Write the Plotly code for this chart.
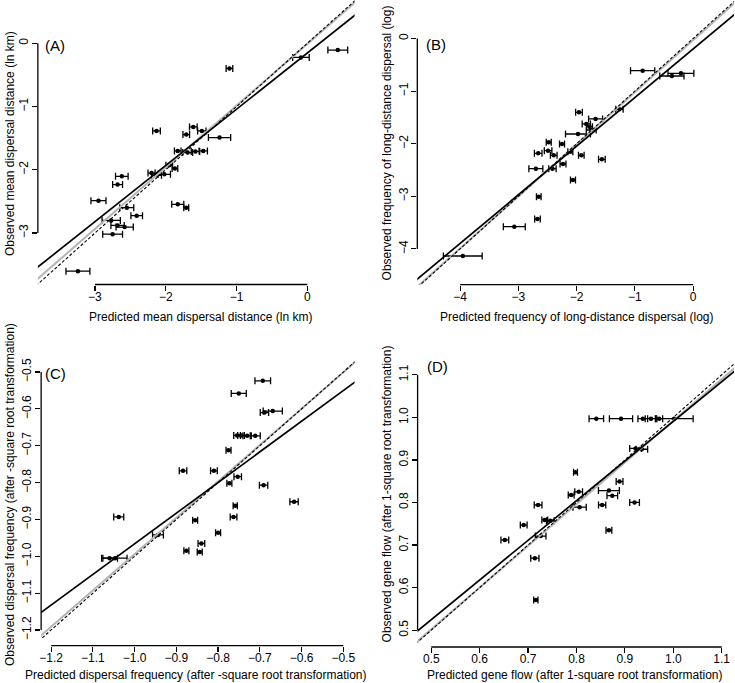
import plotly.graph_objects as go

# ---------------- data ----------------
# Panel A: mean dispersal distance (ln km)
a_pred = [0.43, -0.09, -1.10, -2.13, -1.61, -1.49, -1.71, -1.24, -1.83, -1.69, -1.58, -1.47,
          -1.95, -1.87, -2.20, -2.13, -2.02, -2.62, -2.68, -2.95, -1.83, -1.71, -2.55, -2.41,
          -2.77, -2.68, -2.58, -2.75, -3.24]
a_err = [0.14, 0.117, 0.047, 0.054, 0.054, 0.059, 0.047, 0.157, 0.047, 0.07, 0.06, 0.059,
         0.047, 0.04, 0.05, 0.07, 0.087, 0.089, 0.07, 0.106, 0.085, 0.035, 0.099, 0.082,
         0.129, 0.094, 0.122, 0.14, 0.169]
a_obs = [-0.108, -0.223, -0.397, -1.386, -1.322, -1.386, -1.443, -1.490, -1.702, -1.728, -1.71, -1.702,
         -1.929, -1.981, -2.051, -2.087, -2.071, -2.103, -2.234, -2.488, -2.546, -2.599, -2.599, -2.725,
         -2.800, -2.879, -2.906, -3.017, -3.603]

# Panel B: frequency of long-distance dispersal (log)
b_pred = [-0.867, -0.365, -0.21, -1.265, -1.96, -1.675, -1.834, -1.778, -1.75, -1.977, -2.479, -2.251,
          -2.49, -2.66, -2.393, -2.108, -1.92, -1.567, -2.234, -2.70, -2.415, -2.063, -2.65, -2.672,
          -3.07, -3.954]
b_err = [0.208, 0.208, 0.222, 0.063, 0.057, 0.12, 0.071, 0.05, 0.085, 0.214, 0.043, 0.043,
         0.065, 0.065, 0.057, 0.043, 0.048, 0.057, 0.051, 0.12, 0.063, 0.043, 0.04, 0.048,
         0.188, 0.333]
b_obs = [-0.612, -0.713, -0.662, -1.346, -1.403, -1.530, -1.625, -1.677, -1.740, -1.816, -1.973, -2.006,
         -2.133, -2.183, -2.221, -2.152, -2.221, -2.297, -2.386, -2.475, -2.475, -2.690, -3.008, -3.432,
         -3.578, -4.135]

# Panel C: dispersal frequency (after -square root transformation)
c_pred = [-0.693, -0.7505, -0.669, -0.689, -0.7545, -0.745, -0.7305, -0.711, -0.775, -0.884, -0.810,
          -0.753, -0.773, -0.691, -0.618, -0.759, -0.763, -1.038, -0.855, -0.944, -0.800, -0.840,
          -0.844, -0.876, -1.047, -1.060]
c_err = [0.0187, 0.018, 0.023, 0.010, 0.008, 0.008, 0.010, 0.012, 0.006, 0.009, 0.008,
         0.009, 0.006, 0.010, 0.010, 0.005, 0.008, 0.012, 0.006, 0.013, 0.006, 0.008,
         0.006, 0.006, 0.029, 0.019]
c_obs = [-0.524, -0.558, -0.606, -0.610, -0.672, -0.672, -0.673, -0.673, -0.712, -0.768, -0.768,
         -0.784, -0.802, -0.807, -0.852, -0.863, -0.893, -0.893, -0.902, -0.942, -0.936, -0.965,
         -0.988, -0.985, -1.005, -1.005]

# Panel D: gene flow (after 1-square root transformation)
d_pred = [0.841, 0.892, 0.937, 0.954, 0.971, 1.002, 0.922, 0.935, 0.798, 0.889, 0.8045, 0.789,
          0.867, 0.874, 0.920, 0.853, 0.8065, 0.7207, 0.691, 0.7345, 0.746, 0.726, 0.652, 0.867,
          0.714, 0.716]
d_err = [0.015, 0.024, 0.010, 0.012, 0.007, 0.039, 0.012, 0.012, 0.004, 0.007, 0.008, 0.006,
         0.0216, 0.011, 0.010, 0.0075, 0.0137, 0.008, 0.007, 0.006, 0.008, 0.011, 0.008, 0.006,
         0.0085, 0.0045]
d_obs = [0.997, 0.997, 0.997, 0.997, 0.997, 0.997, 0.927, 0.925, 0.871, 0.849, 0.825, 0.8176,
         0.828, 0.816, 0.800, 0.794, 0.789, 0.794, 0.747, 0.759, 0.757, 0.721, 0.712, 0.735,
         0.669, 0.571]

# fitted lines: (intercept, slope)
a_fit_solid, a_fit_gray, a_fit_dash = (-0.153, 0.889), (-0.01, 0.975), (0.0, 1.0)
b_fit_solid, b_fit_gray, b_fit_dash = (-0.200, 0.924), (-0.03, 0.99), (0.0, 1.0)
c_fit_solid, c_fit_gray, c_fit_dash = (-0.135, 0.831), (-0.008, 0.986), (0.0, 1.0)
d_fit_solid, d_fit_gray, d_fit_dash = (0.0589, 0.9316), (0.012, 0.98), (0.0, 1.0)

# tick values / labels
a_ticks = [-3, -2, -1, 0]
a_ticklabels = ["\u22123", "\u22122", "\u22121", "0"]
b_ticks = [-4, -3, -2, -1, 0]
b_ticklabels = ["\u22124", "\u22123", "\u22122", "\u22121", "0"]
c_ticks = [-1.2, -1.1, -1.0, -0.9, -0.8, -0.7, -0.6, -0.5]
c_ticklabels = ["\u22121.2", "\u22121.1", "\u22121.0", "\u22120.9", "\u22120.8", "\u22120.7", "\u22120.6", "\u22120.5"]
d_ticks = [0.5, 0.6, 0.7, 0.8, 0.9, 1.0, 1.1]
d_ticklabels = ["0.5", "0.6", "0.7", "0.8", "0.9", "1.0", "1.1"]

xtitles = ["Predicted mean dispersal distance (ln km)",
           "Predicted frequency of long-distance dispersal (log)",
           "Predicted dispersal frequency (after -square root transformation)",
           "Predicted gene flow (after 1-square root transformation)"]
ytitles = ["Observed mean dispersal distance (ln km)",
           "Observed frequency of long-distance dispersal (log)",
           "Observed dispersal frequency (after -square root transformation)",
           "Observed gene flow (after 1-square root transformation)"]
panel_labels = ["(A)", "(B)", "(C)", "(D)"]

# ---------------- layout geometry (pixels) ----------------
W, H = 735, 683
FONT = "Liberation Sans, Arial, Helvetica, sans-serif"

panels = [
    dict(pred=a_pred, err=a_err, obs=a_obs, fits=[a_fit_gray, a_fit_dash, a_fit_solid],
         ticks=a_ticks, labels=a_ticklabels,
         px=(36, 354), py=(0, 284.5), xr=[-3.806, 0.667], yr=[-3.813, 0.684],
         xt=(199, 317), yt=(8, 143), lab=(53, 45)),
    dict(pred=b_pred, err=b_err, obs=b_obs, fits=[b_fit_gray, b_fit_dash, b_fit_solid],
         ticks=b_ticks, labels=b_ticklabels,
         px=(417, 735), py=(0, 284.7), xr=[-4.735, 0.701], yr=[-4.681, 0.732],
         xt=(577, 317), yt=(387, 143), lab=(436, 44)),
    dict(pred=c_pred, err=c_err, obs=c_obs, fits=[c_fit_gray, c_fit_dash, c_fit_solid],
         ticks=c_ticks, labels=c_ticklabels,
         px=(39.3, 354), py=(345, 645.7), xr=[-1.2239, -0.4731], yr=[-1.2425, -0.4267],
         xt=(195, 675), yt=(8, 494), lab=(54, 373)),
    dict(pred=d_pred, err=d_err, obs=d_obs, fits=[d_fit_gray, d_fit_dash, d_fit_solid],
         ticks=d_ticks, labels=d_ticklabels,
         px=(417.3, 735), py=(345, 647), xr=[0.4718, 1.1254], yr=[0.4604, 1.170],
         xt=(575, 675), yt=(387, 494), lab=(437, 366)),
]

fig = go.Figure()
line_styles = [dict(color="#b5b5b5", width=2),
               dict(color="black", width=1.1, dash="3px,2px"),
               dict(color="black", width=1.7)]

shapes = []
annotations = []
for i, p in enumerate(panels, start=1):
    xa = "x" if i == 1 else f"x{i}"
    ya = "y" if i == 1 else f"y{i}"
    # points with horizontal error bars
    fig.add_trace(go.Scatter(
        x=p["pred"], y=p["obs"], mode="markers", xaxis=xa, yaxis=ya,
        marker=dict(color="black", size=4.5),
        error_x=dict(type="data", array=p["err"], visible=True, color="black",
                     thickness=1.3, width=3.5),
        showlegend=False, hoverinfo="skip"))
    # fitted lines across the full plotting range
    for (icpt, slope), st in zip(p["fits"], line_styles):
        xs = [p["xr"][0] - 0.5, p["xr"][1] + 0.5]
        ys = [icpt + slope * v for v in xs]
        fig.add_trace(go.Scatter(x=xs, y=ys, mode="lines", xaxis=xa, yaxis=ya,
                                 line=st, showlegend=False, hoverinfo="skip"))

    axcommon = dict(showgrid=False, zeroline=False, showline=False, ticks="outside",
                    ticklen=5, tickwidth=1.2, tickcolor="black",
                    tickvals=p["ticks"], ticktext=p["labels"],
                    tickfont=dict(family=FONT, size=12, color="black"))
    xkey = "xaxis" if i == 1 else f"xaxis{i}"
    ykey = "yaxis" if i == 1 else f"yaxis{i}"
    fig.update_layout(**{
        xkey: dict(domain=[p["px"][0] / W, p["px"][1] / W], range=p["xr"], anchor=ya,
                   ticklabelstandoff=-4, **axcommon),
        ykey: dict(domain=[1 - p["py"][1] / H, 1 - p["py"][0] / H], range=p["yr"], anchor=xa,
                   tickangle=-90, ticklabelstandoff=-1, **axcommon),
    })
    # R-style axis lines spanning first to last tick
    shapes.append(dict(type="line", xref=xa, yref=f"{ya} domain", x0=p["ticks"][0], x1=p["ticks"][-1],
                       y0=0, y1=0, line=dict(color="black", width=1.3)))
    shapes.append(dict(type="line", xref=f"{xa} domain", yref=ya, x0=0, x1=0,
                       y0=p["ticks"][0], y1=p["ticks"][-1], line=dict(color="black", width=1.3)))
    # titles and panel labels
    annotations.append(dict(text=xtitles[i - 1], xref="paper", yref="paper",
                            x=p["xt"][0] / W, y=1 - p["xt"][1] / H, showarrow=False,
                            xanchor="center", yanchor="middle",
                            font=dict(family=FONT, size=12, color="black")))
    annotations.append(dict(text=ytitles[i - 1], xref="paper", yref="paper",
                            x=p["yt"][0] / W, y=1 - p["yt"][1] / H, showarrow=False, textangle=-90,
                            xanchor="center", yanchor="middle",
                            font=dict(family=FONT, size=12, color="black")))
    annotations.append(dict(text=panel_labels[i - 1], xref="paper", yref="paper",
                            x=p["lab"][0] / W, y=1 - p["lab"][1] / H, showarrow=False,
                            xanchor="center", yanchor="middle",
                            font=dict(family=FONT, size=15, color="black")))

fig.update_layout(width=W, height=H, margin=dict(l=0, r=0, t=0, b=0),
                  paper_bgcolor="white", plot_bgcolor="white",
                  shapes=shapes, annotations=annotations, showlegend=False)

fig.write_html("out.html", config={"displayModeBar": False, "staticPlot": True},
               post_script="document.body.style.margin='0';document.body.style.padding='0';"
                           "document.documentElement.style.overflow='hidden';")
